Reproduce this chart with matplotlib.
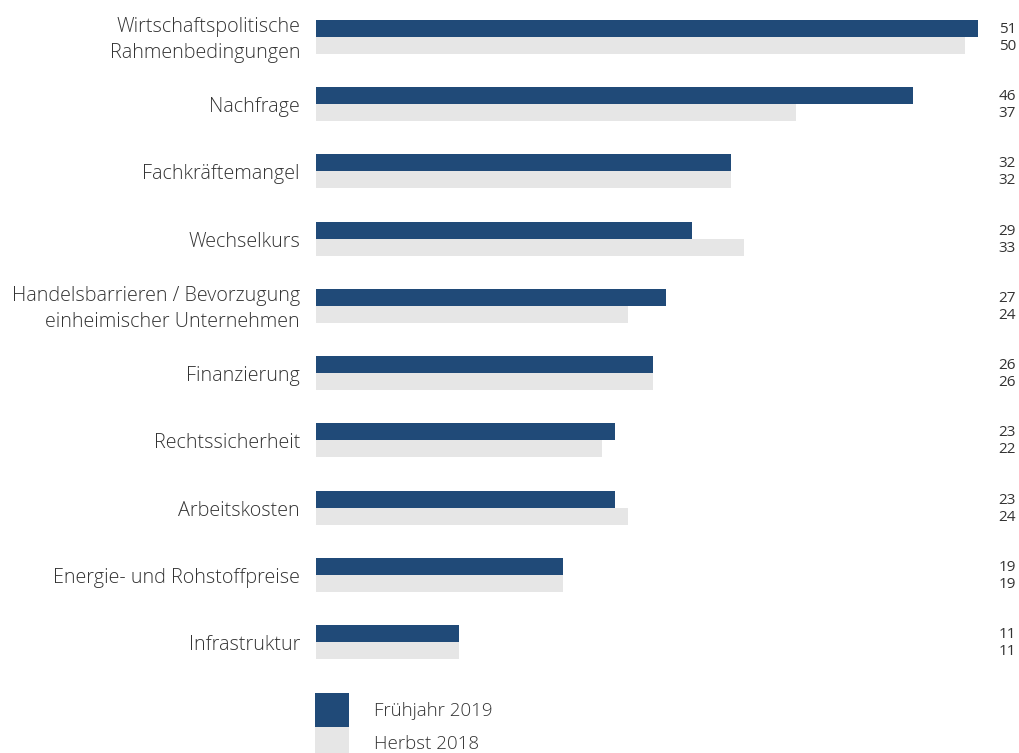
import matplotlib
matplotlib.use("Agg")
import matplotlib.pyplot as plt
from matplotlib.patches import Rectangle
import numpy as np

categories = ["Wirtschaftspolitische\nRahmenbedingungen", "Nachfrage", "Fachkräftemangel",
              "Wechselkurs", "Handelsbarrieren / Bevorzugung\neinheimischer Unternehmen",
              "Finanzierung", "Rechtssicherheit", "Arbeitskosten",
              "Energie- und Rohstoffpreise", "Infrastruktur"]
fruehjahr_2019 = [51, 46, 32, 29, 27, 26, 23, 23, 19, 11]
herbst_2018 = [50, 37, 32, 33, 24, 26, 22, 24, 19, 11]
series_names = ["Frühjahr 2019", "Herbst 2018"]

BLUE = "#204a78"
GREY = "#e6e6e6"
TXT = "#333333"

plt.rcParams['font.family'] = ['Open Sans', 'DejaVu Sans']

W, H = 1019, 753
fig = plt.figure(figsize=(W / 100, H / 100), dpi=100)
left_px, right_px = 316, 978
ax = fig.add_axes([left_px / W, 0, (right_px - left_px) / W, 1])

unit = (642 - 37) / 9.0
ax.set_ylim((H - 37) / unit, -37 / unit)
ax.set_xlim(0, 51)

y = np.arange(len(categories))
bh = 17 / unit
ax.barh(y - bh / 2, fruehjahr_2019, height=bh, color=BLUE)
ax.barh(y + bh / 2, herbst_2018, height=bh, color=GREY)

ax.axis("off")

trans_lab = matplotlib.transforms.blended_transform_factory(fig.transFigure, ax.transData)
off = 3 / unit
for i, c in enumerate(categories):
    ax.text(300 / W, y[i] + off, c, transform=trans_lab, ha="right", va="center",
            fontsize=14.2, color=TXT, fontweight="light", linespacing=1.4)
    ax.text(1016 / W, y[i] - bh / 2 + 1 / unit, str(fruehjahr_2019[i]), transform=trans_lab,
            ha="right", va="center", fontsize=11, color=TXT)
    ax.text(1016 / W, y[i] + bh / 2 + 1 / unit, str(herbst_2018[i]), transform=trans_lab,
            ha="right", va="center", fontsize=11, color=TXT)

# legend
sq = 34
fig.add_artist(Rectangle((315 / W, (H - 727) / H), sq / W, sq / H,
                         transform=fig.transFigure, color=BLUE, lw=0))
fig.add_artist(Rectangle((315 / W, (H - 761) / H), sq / W, sq / H,
                         transform=fig.transFigure, color=GREY, lw=0))
fig.text(374 / W, (H - 711) / H, series_names[0], ha="left", va="center",
         fontsize=13.5, color=TXT, fontweight="light")
fig.text(374 / W, (H - 744) / H, series_names[1], ha="left", va="center",
         fontsize=13.5, color=TXT, fontweight="light")

fig.savefig("out.png", dpi=100, facecolor="white")
